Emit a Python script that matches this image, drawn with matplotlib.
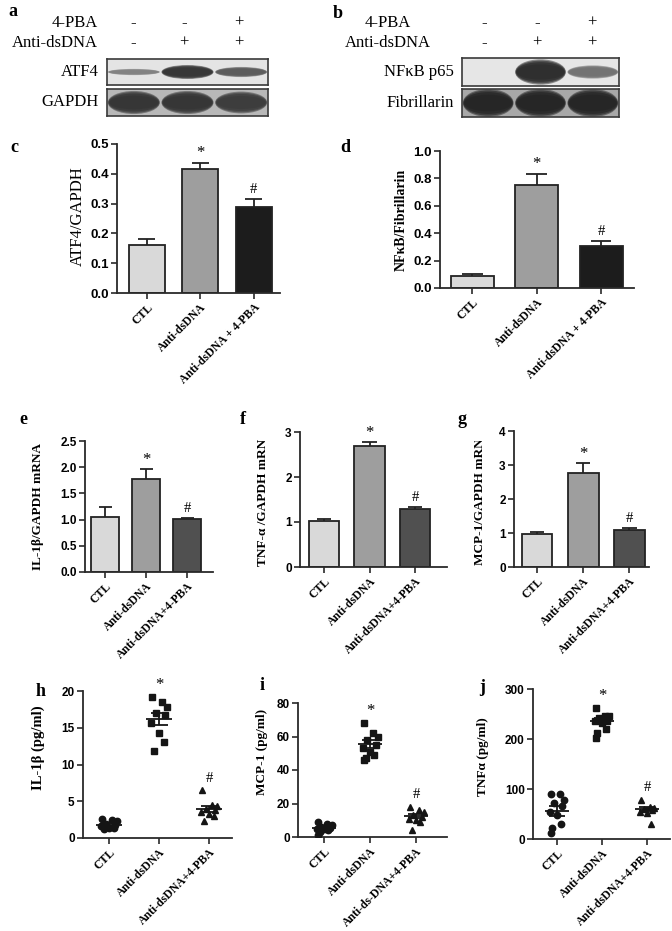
import numpy as np
import matplotlib.pyplot as plt
from matplotlib.patches import Ellipse
from matplotlib.transforms import Bbox, TransformedBbox

# figure is laid out in pixels of the 672x931 reference
W, H = 672, 931

groups_cd = ['CTL', 'Anti-dsDNA', 'Anti-dsDNA + 4-PBA']
groups_efg = ['CTL', 'Anti-dsDNA', 'Anti-dsDNA+4-PBA']
groups_i = ['CTL', 'Anti-dsDNA', 'Anti-ds-DNA+4-PBA']

pba_signs = ['-', '-', '+']
dsdna_signs = ['-', '+', '+']

# western blot bands: relative intensity per lane
atf4_band = [0.4, 0.9, 0.65]
gapdh_band = [0.9, 0.9, 0.85]
nfkb_band = [0.0, 0.95, 0.5]
fibrillarin_band = [1.0, 1.0, 1.0]

# densitometry (mean, sem)
atf4_mean = [0.16, 0.415, 0.287]
atf4_err = [0.02, 0.022, 0.028]
nfkb_mean = [0.09, 0.75, 0.31]
nfkb_err = [0.015, 0.085, 0.032]

# qPCR (mean, sem)
il1b_mrna = [1.05, 1.78, 1.02]
il1b_mrna_err = [0.2, 0.18, 0.02]
tnfa_mrna = [1.03, 2.68, 1.28]
tnfa_mrna_err = [0.04, 0.1, 0.06]
mcp1_mrna = [0.97, 2.77, 1.10]
mcp1_mrna_err = [0.06, 0.28, 0.05]

# ELISA individual points
il1b_ctl = [2.6, 2.4, 2.3, 1.9, 1.8, 1.6, 1.4, 1.3, 1.2]
il1b_ds = [19.2, 18.5, 17.8, 17.0, 16.8, 15.6, 14.3, 13.1, 11.9]
il1b_pba = [6.5, 4.5, 4.3, 4.0, 3.8, 3.5, 3.2, 3.0, 2.3]
il1b_avg = [1.8, 16.2, 3.9]
il1b_sem = [0.2, 0.8, 0.4]

mcp1_ctl = [9.0, 8.0, 7.0, 6.0, 5.5, 5.0, 4.5, 4.0, 3.0, 1.0]
mcp1_ds = [68, 62, 60, 58, 55, 53, 51, 49, 47, 46]
mcp1_pba = [18, 16, 15, 13, 12, 11, 10, 9, 4]
mcp1_avg = [5.3, 55.5, 12.5]
mcp1_sem = [0.8, 2.2, 1.4]

tnfa_ctl = [90, 90, 79, 72, 67, 55, 49, 31, 22, 13]
tnfa_ds = [262, 246, 246, 243, 237, 237, 233, 221, 212, 202]
tnfa_pba = [79, 65, 62, 60, 59, 55, 52, 31]
tnfa_avg = [57, 236, 60]
tnfa_sem = [10, 6, 4.5]

light, mid, black, dark = '#d9d9d9', '#9e9e9e', '#1c1c1c', '#505050'
SERIF = 'Liberation Serif'
SANS = 'Liberation Sans'

fig = plt.figure(figsize=(W / 100, H / 100), dpi=100)


def add_ax(l, t, r, b):
    return fig.add_axes([l / W, 1 - b / H, (r - l) / W, (b - t) / H])


def ftext(x, y, s, **kw):
    kw.setdefault('family', SERIF)
    return fig.text(x / W, 1 - y / H, s, **kw)


def clip_above(t, y):
    # the source panels f and g cut their y labels at the panel top
    t.set_clip_box(TransformedBbox(Bbox([[0, 0], [1, 1 - y / H]]), fig.transFigure))
    t.set_clip_on(True)


def style_axes(ax):
    for s in ['top', 'right']:
        ax.spines[s].set_visible(False)
    for s in ['left', 'bottom']:
        ax.spines[s].set_linewidth(1.3)
        ax.spines[s].set_color('#2a2a2a')
    ax.tick_params(width=1.2, length=4, color='#2a2a2a', pad=2)
    ax.set_facecolor('none')


def bar_panel(rect, vals, errs, colors, ylim, yticks, fmt, xlim, labels,
              tick_fs=8.5, lab_fs=8.5):
    ax = add_ax(*rect)
    x = np.arange(len(vals))
    ax.bar(x, vals, width=0.67, color=colors, edgecolor='#222222',
           linewidth=1.3, zorder=2)
    top = np.array(vals) + np.array(errs)
    ax.vlines(x, vals, top, color='#222222', lw=1.3, zorder=1)
    ax.hlines(top, x - 0.16, x + 0.16, color='#222222', lw=1.3, zorder=1)
    ax.set_xlim(*xlim)
    ax.set_ylim(*ylim)
    ax.set_yticks(yticks)
    ax.set_yticklabels([fmt.format(v) for v in yticks], fontfamily=SANS,
                       fontweight='bold', fontsize=tick_fs)
    ax.set_xticks(x)
    ax.set_xticklabels(labels, rotation=45, ha='right', rotation_mode='anchor',
                       fontfamily=SERIF, fontweight='bold', fontsize=lab_fs)
    style_axes(ax)
    ax.annotate('*', (1, top[1]), xytext=(0, 1), textcoords='offset points',
                ha='center', va='bottom', fontsize=12, family=SERIF)
    ax.annotate('#', (2, top[2]), xytext=(0, 2), textcoords='offset points',
                ha='center', va='bottom', fontsize=10.5, family=SERIF)
    return ax


def offsets(n):
    return np.resize([-0.14, 0.06, 0.16, -0.06, 0.12, -0.16, 0.0, 0.09, -0.1], n)


def scatter_panel(rect, pts, avg, sem, ylim, yticks, xlim, labels):
    ax = add_ax(*rect)
    markers = ['o', 's', '^']
    for i, (p, m) in enumerate(zip(pts, markers)):
        ax.plot(i + offsets(len(p)), p, ls='none', marker=m,
                ms=4.0 if m == '^' else 4.6,
                color='#151515', mec='#151515', zorder=3)
        ax.hlines(avg[i], i - 0.26, i + 0.26, color='#151515', lw=1.3, zorder=4)
        ax.vlines(i, avg[i] - sem[i], avg[i] + sem[i], color='#151515', lw=1.3,
                  zorder=4)
        ax.hlines([avg[i] - sem[i], avg[i] + sem[i]], i - 0.17, i + 0.17,
                  color='#151515', lw=1.3, zorder=4)
    ax.set_xlim(*xlim)
    ax.set_ylim(*ylim)
    ax.set_yticks(yticks)
    ax.set_yticklabels([str(v) for v in yticks], fontfamily=SANS,
                       fontweight='bold', fontsize=8.5)
    ax.set_xticks(range(3))
    ax.set_xticklabels(labels, rotation=45, ha='right', rotation_mode='anchor',
                       fontfamily=SERIF, fontweight='bold', fontsize=8.5)
    style_axes(ax)
    ax.annotate('*', (1, max(pts[1])), xytext=(0, 3), textcoords='offset points',
                ha='center', va='bottom', fontsize=12, family=SERIF)
    ax.annotate('#', (2, max(pts[2])), xytext=(0, 4), textcoords='offset points',
                ha='center', va='bottom', fontsize=10.5, family=SERIF)
    return ax


def blot(rect, bands, bg, band_h, name, name_x):
    ax = add_ax(*rect)
    ax.set_xlim(-0.5, 2.5)
    ax.set_ylim(0, 1)
    ax.set_facecolor(bg)
    ax.set_xticks([])
    ax.set_yticks([])
    for s in ax.spines.values():
        s.set_linewidth(1.2)
        s.set_color('#3a3a3a')
    for i, v in enumerate(bands):
        if v <= 0:
            continue
        g = 0.75 - 0.6 * v
        for k, sc in enumerate([1.0, 0.9, 0.78, 0.6]):
            ax.add_patch(Ellipse((i, 0.5), 0.97 * (0.85 + 0.15 * sc),
                                 band_h * v * sc, facecolor=(g, g, g),
                                 edgecolor='none', alpha=0.5 + 0.12 * k))
    cy = (rect[1] + rect[3]) / 2
    ftext(name_x, cy, name, ha='right', va='center', fontsize=12)
    return ax


# ---- a / b : blots
ftext(8, 12, 'a', fontsize=13, fontweight='bold', va='center')
ftext(98, 23, '4-PBA', ha='right', va='center', fontsize=12)
ftext(98, 43, 'Anti-dsDNA', ha='right', va='center', fontsize=12)
for xs, s1, s2 in zip([133, 184, 239], pba_signs, dsdna_signs):
    ftext(xs, 23, s1, ha='center', va='center', fontsize=12)
    ftext(xs, 43, s2, ha='center', va='center', fontsize=12)
blot((107, 59, 268, 85), atf4_band, '#e4e4e4', 0.6, 'ATF4', 99)
blot((107, 89, 268, 116), gapdh_band, '#b8b8b8', 0.95, 'GAPDH', 99)

ftext(333, 13, 'b', fontsize=13, fontweight='bold', va='center')
ftext(388, 23, '4-PBA', ha='center', va='center', fontsize=12)
ftext(388, 43, 'Anti-dsDNA', ha='center', va='center', fontsize=12)
for xs, s1, s2 in zip([484, 537, 592], pba_signs, dsdna_signs):
    ftext(xs, 23, s1, ha='center', va='center', fontsize=12)
    ftext(xs, 43, s2, ha='center', va='center', fontsize=12)
blot((462, 58, 619, 86), nfkb_band, '#e6e6e6', 0.95, 'NF\u03baB p65', 454)
blot((462, 89, 619, 117), fibrillarin_band, '#a8a8a8', 1.0, 'Fibrillarin', 454)

# ---- c / d : densitometry
ftext(10, 148, 'c', fontsize=13, fontweight='bold', va='center')
bar_panel((117, 144, 280, 293), atf4_mean, atf4_err, [light, mid, black],
          (0, 0.5), [0.0, 0.1, 0.2, 0.3, 0.4, 0.5], '{:.1f}', (-0.56, 2.49),
          groups_cd, tick_fs=9.5, lab_fs=8.5)
ftext(78, 216, 'ATF4/GAPDH', rotation=90, ha='center', va='center', fontsize=12)

ftext(340, 148, 'd', fontsize=13, fontweight='bold', va='center')
bar_panel((440, 151, 634, 288), nfkb_mean, nfkb_err, [light, mid, black],
          (0, 1.0), [0.0, 0.2, 0.4, 0.6, 0.8, 1.0], '{:.1f}', (-0.5, 2.51),
          groups_cd, tick_fs=9.5, lab_fs=8.5)
ftext(401, 220, 'NF\u03baB/Fibrillarin', rotation=90, ha='center', va='center',
      fontsize=10, fontweight='bold')

# ---- e / f / g : mRNA
ftext(19, 420, 'e', fontsize=13, fontweight='bold', va='center')
bar_panel((85, 441, 213, 572), il1b_mrna, il1b_mrna_err, [light, mid, dark],
          (0, 2.5), [0.0, 0.5, 1.0, 1.5, 2.0, 2.5], '{:.1f}', (-0.49, 2.63),
          groups_efg)
ftext(38, 506, 'IL-1\u03b2/GAPDH mRNA', rotation=90, ha='center', va='center',
      fontsize=9.5, fontweight='bold')

ftext(240, 420, 'f', fontsize=13, fontweight='bold', va='center')
bar_panel((300, 432, 447, 567), tnfa_mrna, tnfa_mrna_err, [light, mid, dark],
          (0, 3), [0, 1, 2, 3], '{:d}', (-0.53, 2.7), groups_efg)
t = ftext(263, 566, 'TNF-\u03b1 /GAPDH mRNA', rotation=90, ha='center',
          va='bottom', fontsize=9.5, fontweight='bold')
clip_above(t, 440)

ftext(457, 420, 'g', fontsize=13, fontweight='bold', va='center')
bar_panel((514, 431, 649, 567), mcp1_mrna, mcp1_mrna_err, [light, mid, dark],
          (0, 4), [0, 1, 2, 3, 4], '{:d}', (-0.5, 2.43), groups_efg)
t = ftext(480, 565, 'MCP-1/GAPDH mRNA', rotation=90, ha='center',
          va='bottom', fontsize=9.5, fontweight='bold')
clip_above(t, 441)

# ---- h / i / j : ELISA
ftext(36, 692, 'h', fontsize=13, fontweight='bold', va='center')
scatter_panel((83, 691, 232, 838), [il1b_ctl, il1b_ds, il1b_pba], il1b_avg,
              il1b_sem, (0, 20), [0, 5, 10, 15, 20], (-0.52, 2.46), groups_efg)
ftext(38, 748, 'IL-1\u03b2 (pg/ml)', rotation=90, ha='center', va='center',
      fontsize=10.5, fontweight='bold')

ftext(260, 686, 'i', fontsize=13, fontweight='bold', va='center')
scatter_panel((298, 703, 447, 837), [mcp1_ctl, mcp1_ds, mcp1_pba], mcp1_avg,
              mcp1_sem, (0, 80), [0, 20, 40, 60, 80], (-0.57, 2.67), groups_i)
ftext(262, 752, 'MCP-1 (pg/ml)', rotation=90, ha='center', va='center',
      fontsize=9.5, fontweight='bold')

ftext(479, 688, 'j', fontsize=13, fontweight='bold', va='center')
scatter_panel((533, 689, 670, 839), [tnfa_ctl, tnfa_ds, tnfa_pba], tnfa_avg,
              tnfa_sem, (0, 300), [0, 100, 200, 300], (-0.53, 2.51), groups_efg)
ftext(483, 757, 'TNF\u03b1 (pg/ml)', rotation=90, ha='center', va='center',
      fontsize=9.5, fontweight='bold')

fig.savefig('out.png', dpi=100, facecolor='white')
